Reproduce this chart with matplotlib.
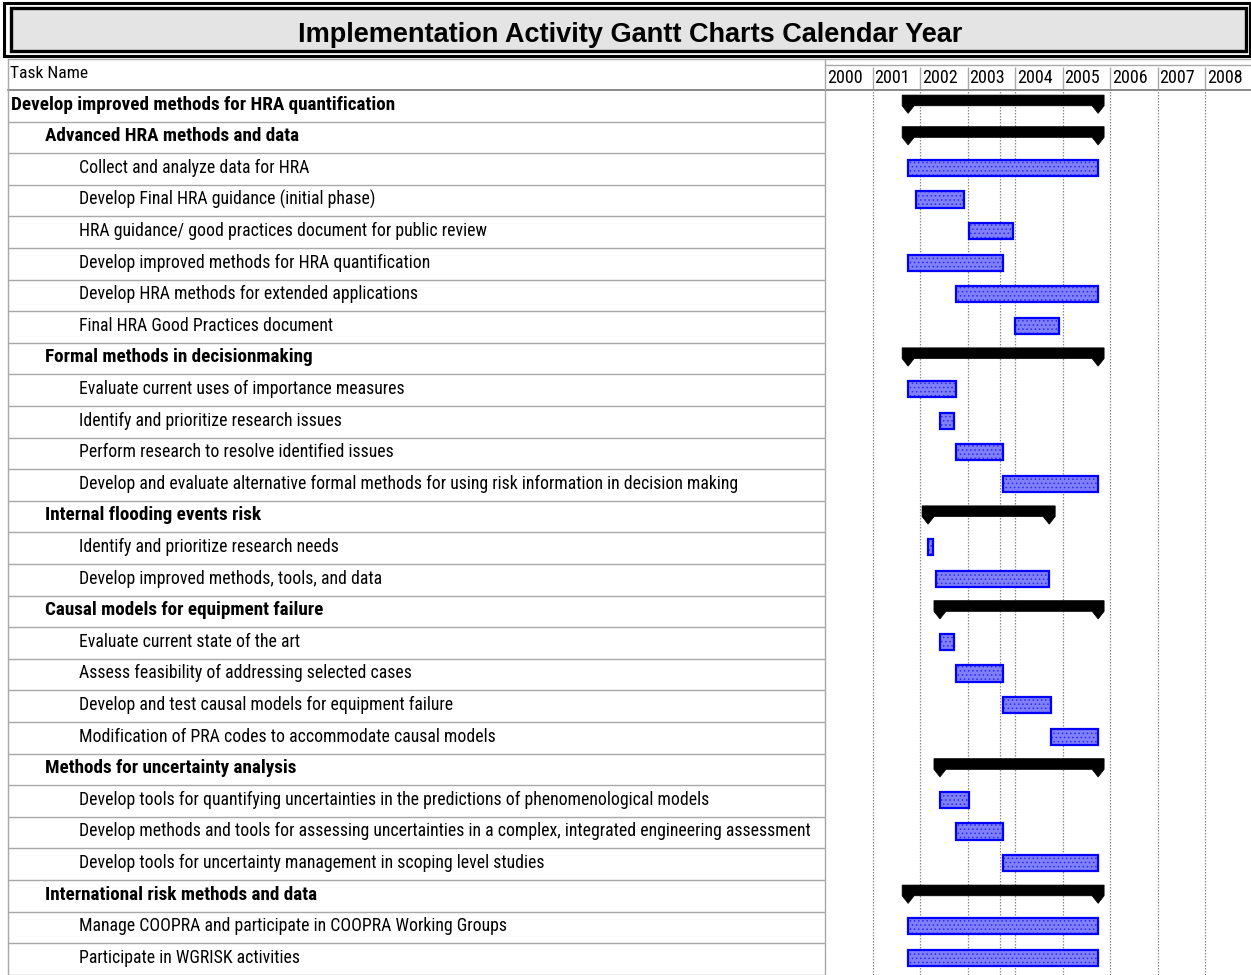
import matplotlib

matplotlib.use("Agg")
import matplotlib.pyplot as plt  # noqa: E402
from matplotlib import font_manager  # noqa: E402
from matplotlib.patches import Polygon, Rectangle  # noqa: E402

# ---- data -------------------------------------------------------------
tasks = [
    "Develop improved methods for HRA quantification",
    "Advanced HRA methods and data",
    "Collect and analyze data for HRA",
    "Develop Final HRA guidance (initial phase)",
    "HRA guidance/ good practices document for public review",
    "Develop improved methods for HRA quantification",
    "Develop HRA methods for extended applications",
    "Final HRA Good Practices document",
    "Formal methods in decisionmaking",
    "Evaluate current uses of importance measures",
    "Identify and prioritize research issues",
    "Perform research to resolve identified issues",
    "Develop and evaluate alternative formal methods for using risk information in decision making",
    "Internal flooding events risk",
    "Identify and prioritize research needs",
    "Develop improved methods, tools, and data",
    "Causal models for equipment failure",
    "Evaluate current state of the art",
    "Assess feasibility of addressing selected cases",
    "Develop and test causal models for equipment failure",
    "Modification of PRA codes to accommodate causal models",
    "Methods for uncertainty analysis",
    "Develop tools for quantifying uncertainties in the predictions of phenomenological models",
    "Develop methods and tools for assessing uncertainties in a complex, integrated engineering assessment",
    "Develop tools for uncertainty management in scoping level studies",
    "International risk methods and data",
    "Manage COOPRA and participate in COOPRA Working Groups",
    "Participate in WGRISK activities",
]
levels = [0, 1, 2, 2, 2, 2, 2, 2, 1, 2, 2, 2, 2, 1, 2, 2, 1, 2, 2, 2, 2,
          1, 2, 2, 2, 1, 2, 2]
starts = [2001.75, 2001.75, 2001.75, 2001.92, 2003.04, 2001.75, 2002.75, 2004.0,
          2001.75, 2001.75, 2002.42, 2002.75, 2003.75,
          2002.17, 2002.17, 2002.34,
          2002.42, 2002.42, 2002.75, 2003.75, 2004.75,
          2002.42, 2002.42, 2002.75, 2003.75,
          2001.75, 2001.75, 2001.75]
ends = [2005.75, 2005.75, 2005.75, 2002.92, 2003.96, 2003.75, 2005.75, 2004.92,
        2005.75, 2002.75, 2002.72, 2003.75, 2005.75,
        2004.72, 2002.27, 2004.72,
        2005.75, 2002.72, 2003.75, 2004.75, 2005.75,
        2005.75, 2003.03, 2003.75, 2005.75,
        2005.75, 2005.75, 2005.75]
years = list(range(2000, 2009))
status_line = 2003.69
title = "Implementation Activity Gantt Charts Calendar Year"

# ---- fonts ------------------------------------------------------------
avail = {f.name for f in font_manager.fontManager.ttflist}
narrow = next((n for n in ["Liberation Sans Narrow", "Arial Narrow", "Roboto Condensed"]
               if n in avail), "Liberation Sans")
plt.rcParams["font.family"] = [narrow, "DejaVu Sans"]
plt.rcParams["hatch.linewidth"] = 0.6
is_narrow = narrow != "Liberation Sans"
fs_task = 12.8 if is_narrow else 11.4
fs_bold = 13.8 if is_narrow else 11.6
fs_year = 13.0 if is_narrow else 11.0
fs_head = 12.6 if is_narrow else 11.0

W, H = 1251, 975
fig = plt.figure(figsize=(W / 100, H / 100), dpi=100)


def px_box(x0, y0, x1, y1):
    """pixel box (top-left origin) -> figure fraction rect"""
    return [x0 / W, 1 - y1 / H, (x1 - x0) / W, (y1 - y0) / H]


GRID = "#a8a8a8"
split_x, top_hdr, top_rows, left_x = 825, 59, 90, 8
row_px = 31.6
n_vis = (H - top_rows) / row_px
px_per_year = 47.5
x_max = 2000 + (W - split_x) / px_per_year

# ---- title box -------------------------------------------------------
fig.patches.append(Rectangle((4 / W, 1 - 55.5 / H), 1246 / W, 52 / H,
                             transform=fig.transFigure, fill=False,
                             edgecolor="black", linewidth=2.2))
fig.patches.append(Rectangle((10.5 / W, 1 - 50.5 / H), 1235 / W, 42.5 / H,
                             transform=fig.transFigure, facecolor="#e4e4e4",
                             edgecolor="black", linewidth=2.4))
fig.text(630 / W, 1 - 35.5 / H, title, ha="center", va="center",
         fontsize=19.5, fontweight="bold", family=["Liberation Sans", "DejaVu Sans"])

# ---- header ----------------------------------------------------------
hdr_tab = fig.add_axes(px_box(left_x, top_hdr, split_x, top_rows))
hdr_tab.set_xlim(0, split_x - left_x)
hdr_tab.set_ylim(1, 0)
hdr_tab.axis("off")
hdr_tab.text(2, 0.47, "Task Name", va="center", ha="left", fontsize=fs_head)

hdr = fig.add_axes(px_box(split_x, top_hdr, W, top_rows))
hdr.set_xlim(2000, x_max)
hdr.set_ylim(1, 0)
hdr.axis("off")
hdr.axhline(0.19, color=GRID, lw=1)
for y in years:
    if y > 2000:
        hdr.vlines(y, 0.25, 0.97, color=GRID, lw=1)
    hdr.text(y + 0.04, 0.62, str(y), va="center", ha="left", fontsize=fs_year)

fig.add_artist(plt.Line2D([left_x / W, 1], [1 - top_hdr / H] * 2,
                          color=GRID, lw=1))
fig.add_artist(plt.Line2D([left_x / W, 1], [1 - top_rows / H] * 2,
                          color="#808080", lw=1.3))

# ---- task table --------------------------------------------------------
tab = fig.add_axes(px_box(left_x, top_rows, split_x, H))
tab.set_xlim(0, split_x - left_x)
tab.set_ylim(n_vis, 0)
tab.axis("off")
indent = {0: 3, 1: 37, 2: 71}
for i, (name, lv) in enumerate(zip(tasks, levels)):
    bold = lv < 2
    tab.text(indent[lv], i + 0.46, name, va="center", ha="left",
             fontsize=fs_bold if bold else fs_task,
             fontweight="bold" if bold else "normal")
    tab.axhline(i + 1, color=GRID, lw=1)

fig.add_artist(plt.Line2D([left_x / W] * 2, [0, 1 - top_hdr / H], color=GRID, lw=1))
fig.add_artist(plt.Line2D([split_x / W] * 2, [0, 1 - top_hdr / H], color=GRID, lw=1))

# ---- gantt -------------------------------------------------------------
ax = fig.add_axes(px_box(split_x, top_rows, W, H))
ax.set_xlim(2000, x_max)
ax.set_ylim(n_vis, 0)
ax.axis("off")
for y in years[1:] + [status_line]:
    ax.axvline(y, color="#8a8a8a", lw=0.9, ls=(0, (1.2, 1.2)), zorder=0)

cap = 6 / px_per_year
for i, (s, e, lv) in enumerate(zip(starts, ends, levels)):
    if lv < 2:
        top, mid, tip = i + 0.16, i + 0.50, i + 0.74
        pts = [(s - cap, top), (e + cap, top), (e + cap, mid), (e, tip),
               (e - cap, mid), (s + cap, mid), (s, tip), (s - cap, mid)]
        ax.add_patch(Polygon(pts, closed=True, facecolor="black",
                             edgecolor="black", lw=0.5, zorder=3))
    else:
        ax.barh(i + 0.465, e - s, left=s, height=0.51, color="#8080fa",
                edgecolor="none", zorder=2)
        ax.barh(i + 0.465, e - s, left=s, height=0.51, color="none",
                edgecolor="#2a2aff", hatch="....", lw=0, zorder=2)
        ax.barh(i + 0.465, e - s, left=s, height=0.51, color="none",
                edgecolor="#0000ff", lw=1.6, zorder=3)

fig.savefig("out.png", dpi=100)
